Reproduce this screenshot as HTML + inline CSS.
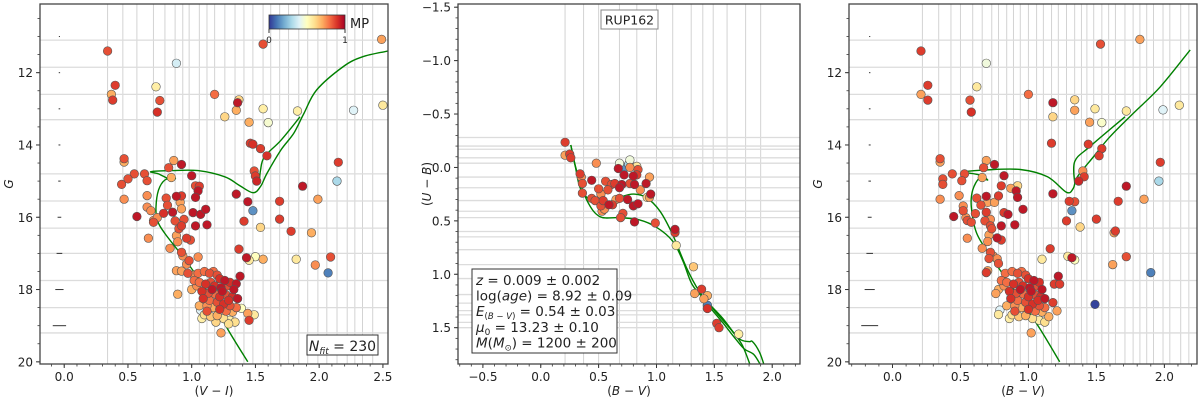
<!DOCTYPE html>
<html><head><meta charset="utf-8">
<style>
html,body{margin:0;padding:0;background:#fff;}
svg{display:block;font-family:"DejaVu Sans","Liberation Sans",sans-serif;}
</style></head>
<body>
<svg id="chart" width="1200" height="401" viewBox="0 0 1200 401" xmlns="http://www.w3.org/2000/svg"></svg>
<script>
// ---------------- DATA ----------------
// Panel 1: (V-I, G, MP)
const p1Stars = [
[0.34,11.40,.85],[1.56,11.21,.85],[2.49,11.08,.72],[0.88,11.74,.38],[0.40,12.35,.88],[0.37,12.60,.7],[0.38,12.76,.88],
[0.72,12.39,.55],[0.75,12.77,.85],[0.73,13.09,.9],[1.18,12.60,.8],[1.37,12.75,.62],[1.36,12.83,.95],[1.35,13.04,.7],
[1.26,13.22,.62],[1.56,13.00,.55],[1.60,13.38,.47],[1.45,13.37,.7],[1.83,13.06,.55],[2.27,13.04,.4],[2.50,12.90,.57],
[1.46,13.95,.88],[1.48,13.98,.9],[1.54,14.10,.88],[1.59,14.30,.9],[2.15,14.48,.88],[0.47,14.38,.85],[0.47,14.47,.7],
[0.86,14.43,.72],[0.92,14.54,.95],[0.82,14.63,.85],[1.00,14.85,.95],[0.55,14.80,.85],[0.63,14.80,.85],[0.50,14.94,.85],
[0.45,15.09,.85],[0.65,14.99,.85],[0.84,14.90,.7],[1.06,15.14,.88],[1.03,15.13,.85],[1.05,15.27,.95],[1.03,15.45,.95],
[1.49,14.72,.85],[1.50,14.86,.88],[1.51,15.00,.92],[2.14,15.00,.3],[1.87,15.14,.95],[0.47,15.50,.75],[0.65,15.40,.75],
[0.80,15.47,.85],[0.88,15.42,.95],[0.92,15.41,.88],[0.91,15.59,.72],[1.35,15.36,.95],[1.44,15.57,.95],[1.48,15.82,.15],
[1.99,15.50,.72],[1.69,15.56,.88],[0.81,15.67,.85],[0.65,15.72,.75],[0.68,15.82,.75],[0.78,15.89,.9],[0.85,15.86,.95],
[0.92,15.77,.72],[1.01,15.87,.95],[1.07,15.92,.95],[1.11,15.78,.95],[0.57,15.98,.95],[0.70,16.09,.75],[0.73,16.01,.75],
[0.70,16.14,.85],[0.87,16.10,.85],[0.94,16.06,.85],[0.90,16.32,.85],[0.92,16.24,.88],[1.03,16.24,.95],[1.12,16.21,.95],
[1.69,16.05,.88],[1.41,16.11,.88],[1.54,16.28,.62],[1.78,16.39,.88],[1.94,16.43,.7],[0.66,16.58,.75],[0.88,16.51,.72],
[0.96,16.58,.88],[0.99,16.63,.85],[0.89,16.68,.75],[0.83,16.86,.75],[1.37,16.88,.88],[0.92,16.97,.85],[0.93,17.07,.75],
[1.05,17.10,.75],[0.98,17.20,.85],[0.96,17.30,.75],[1.43,17.12,.95],[1.45,17.19,.57],[1.50,17.09,.5],[1.56,17.16,.7],
[1.82,17.16,.57],[2.09,17.10,.85],[1.97,17.32,.75],[2.07,17.54,.12],[0.88,17.48,.72],[0.92,17.49,.72],[0.97,17.55,.85],
[1.38,17.63,.95],[1.35,17.84,.95],[0.89,18.13,.7],[1.05,17.55,.8],[1.10,17.50,.8],[1.14,17.55,.85],[1.17,17.50,.8],
[1.20,17.60,.85],[1.22,17.70,.9],[1.26,17.75,.95],[1.30,17.80,.9],[1.02,17.75,.8],[1.06,17.80,.8],[1.11,17.85,.9],
[1.15,17.80,.85],[1.18,17.90,.9],[1.23,17.95,.95],[1.28,17.90,.85],[1.33,18.00,.95],[1.04,17.90,.75],[1.08,18.05,.9],
[1.13,18.10,.85],[1.18,18.12,.8],[1.22,18.20,.9],[1.27,18.15,.85],[1.32,18.20,.9],[1.36,18.25,.95],[1.09,18.25,.9],
[1.14,18.30,.8],[1.20,18.35,.85],[1.25,18.40,.9],[1.30,18.45,.85],[1.35,18.50,.8],[1.12,18.45,.75],[1.17,18.50,.7],
[1.22,18.55,.9],[1.27,18.60,.8],[1.32,18.62,.7],[1.10,18.70,.6],[1.15,18.75,.65],[1.20,18.72,.7],[1.25,18.80,.6],
[1.30,18.85,.55],[1.34,18.90,.6],[1.08,18.80,.55],[1.12,18.60,.85],[1.00,18.00,.7],[1.06,18.45,.7],[1.16,18.00,.95],
[1.24,18.05,.95],[1.29,18.30,.9],[1.23,19.20,.72],[1.44,18.66,.72],[1.45,18.85,.88],[1.49,18.70,.57],[1.39,18.52,.5],
[1.07,18.57,.4],[1.19,18.90,.62],[1.29,18.95,.6],[1.02,17.60,.75]
];
// Panel 1 isochrone (V-I, G)
const p1IsoX = [1.44,1.28,1.13,0.95,0.79,0.73,0.72,0.74,0.79,0.87,0.84,0.74,0.68,0.84,1.05,1.26,1.37,1.48,1.54,1.59,1.70,1.80,1.88,1.98,2.19,2.34,2.54];
const p1IsoY = [20.0,19.08,18.10,17.18,16.45,16.08,15.71,15.25,14.97,14.92,14.97,14.80,14.74,14.71,14.71,14.88,15.11,15.32,15.15,14.79,14.14,13.68,13.13,12.48,11.83,11.56,11.40];
const p1BranchX = [1.53,1.54,1.57,1.70,1.85];
const p1BranchY = [15.05,14.70,14.33,13.87,13.22];
// Panel 2: (B-V, U-B, MP)
const p2Stars = [
[0.21,-0.235,.88],[0.21,-0.115,.72],[0.25,-0.125,.88],[0.26,-0.09,.88],[0.48,-0.04,.75],[0.34,0.06,.88],[0.35,0.09,.75],
[0.36,0.15,.85],[0.36,0.24,.85],[0.44,0.12,.95],[0.68,-0.04,.45],[0.77,-0.07,.45],[0.76,-0.03,.3],[0.73,0.00,.15],
[0.83,-0.01,.57],[0.67,0.01,.95],[0.77,0.00,.75],[0.84,0.02,.85],[0.72,0.07,.95],[0.80,0.08,.95],[0.83,0.07,.88],
[0.94,0.09,.72],[0.56,0.13,.85],[0.61,0.16,.85],[0.64,0.15,.88],[0.70,0.16,.95],[0.68,0.19,.95],[0.77,0.15,.85],
[0.81,0.16,.95],[0.91,0.15,.95],[0.86,0.21,.75],[0.95,0.25,.95],[0.94,0.28,.72],[0.92,0.28,.62],[0.50,0.20,.85],
[0.58,0.21,.85],[0.52,0.25,.75],[0.44,0.29,.85],[0.54,0.31,.88],[0.47,0.31,.85],[0.52,0.36,.85],[0.59,0.35,.95],
[0.53,0.41,.75],[0.55,0.39,.75],[0.62,0.35,.88],[0.65,0.30,.72],[0.68,0.29,.85],[0.75,0.30,.95],[0.80,0.36,.95],
[0.84,0.34,.95],[0.71,0.43,.85],[0.69,0.47,.85],[0.81,0.51,.95],[0.99,0.52,.85],[1.16,0.58,.95],[1.16,0.61,.88],
[1.17,0.73,.57],[1.32,0.93,.65],[1.33,1.18,.72],[1.39,1.14,.88],[1.41,1.23,.72],[1.44,1.20,.7],[1.44,1.29,.12],
[1.44,1.32,.9],[1.52,1.46,.88],[1.54,1.50,.88],[1.71,1.56,.55]
];
// Panel 2 isochrones (B-V, U-B)
const p2IsoAX = [0.26,0.30,0.34,0.42,0.54,0.68,0.80,0.91,1.03,1.14,1.26,1.37,1.51,1.66,1.74,1.81];
const p2IsoAY = [-0.21,0.00,0.19,0.30,0.34,0.28,0.25,0.28,0.41,0.63,0.94,1.16,1.35,1.54,1.66,1.85];
const p2IsoBX = [0.26,0.31,0.40,0.51,0.68,0.85,1.00,1.14,1.23,1.31,1.43,1.57,1.71,1.80,1.83,1.89,1.93];
const p2IsoBY = [-0.21,0.03,0.31,0.46,0.47,0.49,0.56,0.69,0.88,1.10,1.25,1.41,1.60,1.63,1.63,1.73,1.85];
const p2IsoCX = [1.43,1.57,1.68,1.76,1.84,1.90];
const p2IsoCY = [1.27,1.45,1.60,1.70,1.75,1.85];
// Panel 3: (B-V, G, MP)
const p3Stars = [
[0.21,11.40,.88],[1.53,11.21,.85],[1.82,11.08,.72],[0.69,11.74,.45],[0.26,12.35,.88],[0.21,12.60,.72],[0.26,12.76,.88],
[0.62,12.39,.57],[0.57,12.76,.85],[0.58,13.09,.9],[1.00,12.60,.8],[1.18,12.83,.95],[1.34,12.75,.62],[1.34,13.04,.72],
[1.18,13.22,.62],[1.49,13.00,.57],[1.54,13.38,.48],[1.45,13.37,.72],[1.72,13.06,.57],[1.99,13.03,.4],[2.11,12.90,.57],
[1.17,13.95,.88],[1.44,13.98,.88],[1.54,14.10,.88],[1.52,14.30,.88],[1.97,14.48,.88],[1.96,15.00,.3],[1.72,15.14,.95],
[0.35,14.38,.85],[0.35,14.47,.72],[0.69,14.43,.72],[0.75,14.54,.95],[0.67,14.63,.85],[0.82,14.85,.95],[0.44,14.80,.85],
[0.53,14.80,.85],[0.37,14.94,.85],[0.37,15.09,.85],[0.51,14.99,.85],[0.66,14.90,.72],[0.80,15.13,.88],[0.92,15.13,.62],
[0.91,15.27,.95],[0.92,15.45,.95],[0.87,15.20,.72],[1.40,14.72,.75],[1.41,14.88,.88],[1.37,15.00,.92],[0.35,15.50,.75],
[0.49,15.40,.75],[0.62,15.47,.85],[0.69,15.42,.95],[0.78,15.41,.88],[0.70,15.59,.72],[0.75,15.59,.72],[1.18,15.35,.95],
[1.30,15.56,.88],[1.34,15.57,.85],[1.32,15.82,.15],[1.85,15.50,.72],[1.66,15.56,.88],[0.52,15.69,.75],[0.52,15.82,.85],
[0.65,15.66,.85],[0.69,15.86,.88],[0.61,15.90,.85],[0.82,15.87,.88],[0.85,15.92,.95],[0.96,15.78,.95],[0.45,15.98,.95],
[0.54,16.01,.75],[0.55,16.09,.85],[0.58,16.14,.85],[0.68,16.10,.85],[0.72,16.06,.75],[0.72,16.24,.85],[0.73,16.32,.85],
[0.80,16.24,.95],[0.90,16.21,.95],[1.28,16.10,.88],[1.50,16.05,.88],[1.38,16.27,.62],[1.64,16.38,.88],[1.63,16.43,.72],
[0.55,16.58,.75],[0.71,16.49,.72],[0.77,16.57,.95],[0.80,16.63,.88],[0.70,16.67,.75],[0.66,16.86,.75],[1.16,16.87,.88],
[0.72,16.97,.85],[0.74,17.07,.75],[0.77,17.15,.75],[0.71,17.14,.85],[0.78,17.28,.85],[1.10,17.16,.57],[1.29,17.08,.57],
[1.32,17.12,.95],[1.34,17.18,.5],[1.72,17.09,.85],[1.62,17.31,.72],[1.90,17.53,.12],[1.49,18.41,.02],[0.69,17.53,.88],
[0.70,17.48,.72],[1.22,17.63,.95],[1.19,17.85,.88],[1.23,17.85,.88],[1.18,18.36,.88],[1.21,18.59,.72],[0.76,18.11,.72],
[0.79,18.57,.4],[0.78,18.69,.57],[1.02,19.20,.72],
[0.83,17.55,.8],[0.88,17.50,.8],[0.92,17.55,.85],[0.95,17.50,.8],[0.98,17.60,.85],[1.00,17.70,.9],[1.04,17.75,.95],
[1.08,17.80,.9],[0.80,17.75,.8],[0.84,17.80,.8],[0.89,17.85,.9],[0.93,17.80,.85],[0.96,17.90,.9],[1.01,17.95,.95],
[1.06,17.90,.85],[1.10,18.00,.95],[0.82,17.90,.75],[0.86,18.05,.9],[0.91,18.10,.85],[0.96,18.12,.8],[1.00,18.20,.9],
[1.05,18.15,.85],[1.09,18.20,.9],[1.12,18.25,.95],[0.87,18.25,.9],[0.92,18.30,.8],[0.98,18.35,.85],[1.03,18.40,.9],
[1.08,18.45,.85],[1.12,18.50,.8],[0.90,18.45,.75],[0.95,18.50,.7],[1.00,18.55,.9],[1.05,18.60,.8],[1.10,18.62,.7],
[0.88,18.70,.6],[0.93,18.75,.65],[0.98,18.72,.7],[1.03,18.80,.6],[1.08,18.85,.55],[1.12,18.90,.6],[0.86,18.80,.55],
[0.90,18.60,.85],[0.78,18.00,.7],[0.84,18.45,.7],[0.94,18.00,.95],[1.02,18.05,.95],[1.07,18.30,.9],[1.15,18.75,.7]
];
const p3IsoX = [1.23,1.09,0.91,0.74,0.62,0.58,0.59,0.64,0.70,0.64,0.55,0.53,0.69,0.94,1.14,1.28,1.33,1.36,1.48,1.60,1.77,1.97,2.19];
const p3IsoY = [20.0,19.12,18.10,17.18,16.45,15.71,15.25,14.92,14.97,14.83,14.77,14.74,14.69,14.68,14.88,15.31,15.20,14.88,14.32,13.77,13.13,12.39,11.37];
const p3BranchX = [1.34,1.34,1.45,1.71];
const p3BranchY = [15.06,14.46,14.05,13.22];
// Ticks and grid
const p1XTicks = [0.0,0.5,1.0,1.5,2.0,2.5];
const p1XTickLabels = ["0.0","0.5","1.0","1.5","2.0","2.5"];
const gYTicks = [12,14,16,18,20];
const gYTickLabels = ["12","14","16","18","20"];
const p2XTicks = [-0.5,0.0,0.5,1.0,1.5,2.0];
const p2XTickLabels = ["\u22120.5","0.0","0.5","1.0","1.5","2.0"];
const p2YTicks = [-1.5,-1.0,-0.5,0.0,0.5,1.0,1.5];
const p2YTickLabels = ["\u22121.5","\u22121.0","\u22120.5","0.0","0.5","1.0","1.5"];
const p3XTicks = [0.0,0.5,1.0,1.5,2.0];
const p3XTickLabels = ["0.0","0.5","1.0","1.5","2.0"];
const p1GridX = [0.34,0.46,0.57,0.70,0.79,0.87,0.93,0.98,1.06,1.12,1.18,1.26,1.34,1.41,1.48,1.56,1.62,1.69,1.76,1.84,1.91,1.99,2.06,2.14,2.22,2.28,2.34,2.42];
const gGridY = [11.1,11.85,12.6,13.3,14.8,15.55,16.3,17.0,17.75,18.5,19.2];
const p2GridX = [0.21,0.37,0.50,0.68,0.83,1.0,1.14,1.30,1.40,1.49,1.61,1.77,1.90];
const p2GridY = [-0.28,-0.2,-0.17,-0.09,-0.04,0.09,0.19,0.31,0.41,0.47,0.6,0.65,0.77,0.91,1.04,1.19,1.27,1.34,1.38,1.45,1.5];
const p3GridX = [0.22,0.34,0.43,0.50,0.59,0.66,0.73,0.78,0.84,0.89,0.94,1.0,1.06,1.11,1.17,1.22,1.28,1.34,1.39,1.43,1.48,1.54,1.59,1.64,1.71,1.77,1.82,1.87,1.92,1.99,2.04,2.12,2.18];
const errMag = [11,12,13,14,15,16,17,18,19];
const errColP1 = [0.002,0.003,0.004,0.005,0.007,0.012,0.02,0.03,0.05];
const errColP3 = [0.002,0.003,0.004,0.005,0.007,0.012,0.022,0.035,0.06];

// ---------------- DRAW ----------------
const svg = document.getElementById('chart');
const NS = 'http://www.w3.org/2000/svg';
function mk(tag, attrs, parent){
  const e = document.createElementNS(NS, tag);
  for (const k in attrs) e.setAttribute(k, attrs[k]);
  (parent||svg).appendChild(e);
  return e;
}
const stops = [[0,[49,54,149]],[0.1,[69,117,180]],[0.2,[116,173,209]],[0.3,[171,217,233]],[0.4,[224,243,248]],[0.5,[255,255,191]],[0.6,[254,224,144]],[0.7,[253,174,97]],[0.8,[244,109,67]],[0.9,[215,48,39]],[1,[165,0,38]]];
function cmap(v){
  v=Math.max(0,Math.min(1,v));
  for(let i=1;i<stops.length;i++){ if(v<=stops[i][0]){ const a=stops[i-1],b=stops[i]; const t=(v-a[0])/(b[0]-a[0]);
    const c=a[1].map((x,j)=>Math.round(x+(b[1][j]-x)*t)); return `rgb(${c[0]},${c[1]},${c[2]})`; } }
  return 'rgb(165,0,38)';
}
function makeAxes(box, xd, yd){
  const sx = v => box.x0 + (v - xd[0])/(xd[1]-xd[0])*(box.x1-box.x0);
  const sy = v => box.y0 + (v - yd[0])/(yd[1]-yd[0])*(box.y1-box.y0);
  return {sx, sy};
}
function panel(id, box, xd, yd, gridX, gridY, xTicks, xLabels, yTicks, yLabels, xMinorStep, yMinorStep, xTitle, yTitle){
  const {sx, sy} = makeAxes(box, xd, yd);
  const g = mk('g', {});
  
  
  const clipId = id+'-clip';
  const cp = mk('clipPath', {id: clipId}, g);
  mk('rect', {x: box.x0, y: box.y0, width: box.x1-box.x0, height: box.y1-box.y0}, cp);
  const grid = mk('g', {'clip-path': `url(#${clipId})`}, g);
  
  
  gridX.forEach(v => mk('line', {x1: sx(v), x2: sx(v), y1: box.y0, y2: box.y1, stroke: '#d3d3d3', 'stroke-width': 1}, grid));
  gridY.forEach(v => mk('line', {x1: box.x0, x2: box.x1, y1: sy(v), y2: sy(v), stroke: '#dcdcdc', 'stroke-width': 1.3}, grid));
  const ax = mk('g', {}, g);
  
  
  const xs = Math.ceil(xd[0]/xMinorStep), xe = Math.floor(xd[1]/xMinorStep);
  for (let i = xs; i <= xe; i++){ const x = sx(i*xMinorStep); mk('line', {x1:x,x2:x,y1:box.y1,y2:box.y1+2.5,stroke:'#333','stroke-width':0.8}, ax); }
  const lo = Math.min(yd[0],yd[1]), hi = Math.max(yd[0],yd[1]);
  for (let i = Math.ceil(lo/yMinorStep); i <= Math.floor(hi/yMinorStep); i++){ const y = sy(i*yMinorStep); mk('line', {x1:box.x0-2.5,x2:box.x0,y1:y,y2:y,stroke:'#333','stroke-width':0.8}, ax); }
  xTicks.forEach((v,i) => { const x = sx(v);
    mk('line', {x1:x,x2:x,y1:box.y1,y2:box.y1+4,stroke:'#333','stroke-width':1}, ax);
    const t = mk('text', {x:x, y:box.y1+17, 'text-anchor':'middle', 'font-size':12, fill:'#222'}, ax); t.textContent = xLabels[i];
    
    
  });
  yTicks.forEach((v,i) => { const y = sy(v);
    mk('line', {x1:box.x0-4,x2:box.x0,y1:y,y2:y,stroke:'#333','stroke-width':1}, ax);
    const t = mk('text', {x:box.x0-7, y:y+4.5, 'text-anchor':'end', 'font-size':12, fill:'#222'}, ax); t.textContent = yLabels[i];
    
    
  });
  const xt = mk('text', {x:(box.x0+box.x1)/2, y:395, 'text-anchor':'middle', 'font-size':12, fill:'#222'}, ax);
  xt.innerHTML = xTitle;
  
  
  const yt = mk('text', {x:0, y:0, 'text-anchor':'middle', 'font-size':12, fill:'#222', transform:`translate(${box.x0-27},${(box.y0+box.y1)/2}) rotate(-90)`}, ax);
  yt.innerHTML = yTitle;
  
  
  const plot = mk('g', {'clip-path': `url(#${clipId})`}, g);
  
  
  const frame = mk('rect', {x: box.x0, y: box.y0, width: box.x1-box.x0, height: box.y1-box.y0, fill:'none', stroke:'#444', 'stroke-width':1.3}, g);
  
  
  return {sx, sy, plot, g};
}
function drawLine(P, xs, ys, name){
  const pts = xs.map((x,i)=>[P.sx(x), P.sy(ys[i])]);
  let d = `M${pts[0][0].toFixed(1)},${pts[0][1].toFixed(1)}`;
  for (let i = 0; i < pts.length-1; i++){
    const p0 = pts[Math.max(0,i-1)], p1 = pts[i], p2 = pts[i+1], p3 = pts[Math.min(pts.length-1,i+2)];
    const c1 = [p1[0]+(p2[0]-p0[0])/6, p1[1]+(p2[1]-p0[1])/6];
    const c2 = [p2[0]-(p3[0]-p1[0])/6, p2[1]-(p3[1]-p1[1])/6];
    d += ` C${c1[0].toFixed(1)},${c1[1].toFixed(1)} ${c2[0].toFixed(1)},${c2[1].toFixed(1)} ${p2[0].toFixed(1)},${p2[1].toFixed(1)}`;
  }
  const p = mk('path', {d, fill:'none', stroke:'#008000', 'stroke-width':1.4, 'stroke-linejoin':'round'}, P.plot);
  
  
}
function drawStars(P, stars, name){
  const sorted = stars.slice().sort((a,b)=>a[2]-b[2]);
  sorted.forEach(s => {
    const c = mk('circle', {cx:P.sx(s[0]).toFixed(1), cy:P.sy(s[1]).toFixed(1), r:4.3, fill:cmap(s[2]), stroke:'#555', 'stroke-width':0.6}, P.plot);
    
    
  });
}
function drawErr(P, xc, cols, name){
  errMag.forEach((m,i) => {
    const l = mk('line', {x1:P.sx(xc-cols[i]), x2:P.sx(xc+cols[i])+0.6, y1:P.sy(m), y2:P.sy(m), stroke:'#333', 'stroke-width':1}, P.plot);
    
    
  });
}
const it = s => `<tspan font-style="italic">${s}</tspan>`;

// Panel 1
const P1 = panel('panel-vi', {x0:40,x1:388,y0:4,y1:364}, [-0.19,2.54], [10.1,20.06], p1GridX, gGridY,
  p1XTicks, p1XTickLabels, gYTicks, gYTickLabels, 0.1, 0.5, `(${it('V')} \u2212 ${it('I')})`, it('G'));
drawErr(P1, -0.04, errColP1, 'error-bar');
drawLine(P1, p1IsoX, p1IsoY, 'isochrone');
drawLine(P1, p1BranchX, p1BranchY, 'isochrone-branch');
drawStars(P1, p1Stars, 'star-point');
const cbG = mk('g', {}, P1.g);


const defs = mk('defs', {}, cbG);
const lg = mk('linearGradient', {id:'cbgrad', x1:0, x2:1, y1:0, y2:0}, defs);
stops.forEach(s => mk('stop', {offset: s[0], 'stop-color': cmap(s[0])}, lg));
mk('rect', {x:269, y:15, width:76, height:14, fill:'url(#cbgrad)', stroke:'#333', 'stroke-width':0.8}, cbG);
mk('line', {x1:269,x2:269,y1:29,y2:33,stroke:'#333'}, cbG);
mk('line', {x1:345,x2:345,y1:29,y2:33,stroke:'#333'}, cbG);
let t;
t = mk('text', {x:350, y:28, 'font-size':13, fill:'#222'}, cbG); t.textContent = 'MP';
t = mk('text', {x:269, y:43, 'font-size':9, fill:'#222', 'text-anchor':'middle'}, cbG); t.textContent = '0';
t = mk('text', {x:345, y:43, 'font-size':9, fill:'#222', 'text-anchor':'middle'}, cbG); t.textContent = '1';
const nb = mk('g', {}, P1.g);


mk('rect', {x:307, y:335, width:71, height:20, fill:'#fff', stroke:'#333', 'stroke-width':1}, nb);
t = mk('text', {x:342.5, y:351, 'font-size':14, fill:'#222', 'text-anchor':'middle'}, nb);
t.innerHTML = `${it('N')}<tspan font-size="9" dy="3" font-style="italic">fit</tspan><tspan dy="-3"> = 230</tspan>`;

// Panel 2
const P2 = panel('panel-ub', {x0:458,x1:800,y0:4,y1:364}, [-0.715,2.24], [-1.53,1.84], p2GridX, p2GridY,
  p2XTicks, p2XTickLabels, p2YTicks, p2YTickLabels, 0.1, 0.1, `(${it('B')} \u2212 ${it('V')})`, `(${it('U')} \u2212 ${it('B')})`);
drawLine(P2, p2IsoAX, p2IsoAY, 'isochrone');
drawLine(P2, p2IsoBX, p2IsoBY, 'isochrone');
drawLine(P2, p2IsoCX, p2IsoCY, 'isochrone');
drawStars(P2, p2Stars, 'star-point');
const rb = mk('g', {}, P2.g);


mk('rect', {x:601, y:10, width:57, height:19, fill:'#fff', stroke:'#888', 'stroke-width':1}, rb);
t = mk('text', {x:629.5, y:24.5, 'font-size':12.5, fill:'#222', 'text-anchor':'middle'}, rb); t.textContent = 'RUP162';
const pb = mk('g', {}, P2.g);


mk('rect', {x:472, y:269, width:145, height:84, fill:'#fff', stroke:'#333', 'stroke-width':1}, pb);
const lines = [
  `${it('z')} = 0.009 \u00b1 0.002`,
  `log(${it('age')}) = 8.92 \u00b1 0.09`,
  `${it('E')}<tspan font-size="8.5" dy="3">(${it('B')} \u2212 ${it('V')})</tspan><tspan dy="-3"> = 0.54 \u00b1 0.03</tspan>`,
  `${it('\u03bc')}<tspan font-size="9" dy="3">0</tspan><tspan dy="-3"> = 13.23 \u00b1 0.10</tspan>`,
  `${it('M')}(${it('M')}<tspan font-size="8.5" dy="3">\u2299</tspan><tspan dy="-3">) = 1200 \u00b1 200</tspan>`
];
lines.forEach((s,i) => { const tt = mk('text', {x:476, y:285+i*15.6, 'font-size':13.5, fill:'#222'}, pb); tt.innerHTML = s; });

// Panel 3
const P3 = panel('panel-bv', {x0:849,x1:1197,y0:4,y1:364}, [-0.32,2.24], [10.1,20.06], p3GridX, gGridY,
  p3XTicks, p3XTickLabels, gYTicks, gYTickLabels, 0.1, 0.5, `(${it('B')} \u2212 ${it('V')})`, it('G'));
drawErr(P3, -0.17, errColP3, 'error-bar');
drawLine(P3, p3IsoX, p3IsoY, 'isochrone');
drawLine(P3, p3BranchX, p3BranchY, 'isochrone-branch');
drawStars(P3, p3Stars, 'star-point');
</script>
</body></html>
